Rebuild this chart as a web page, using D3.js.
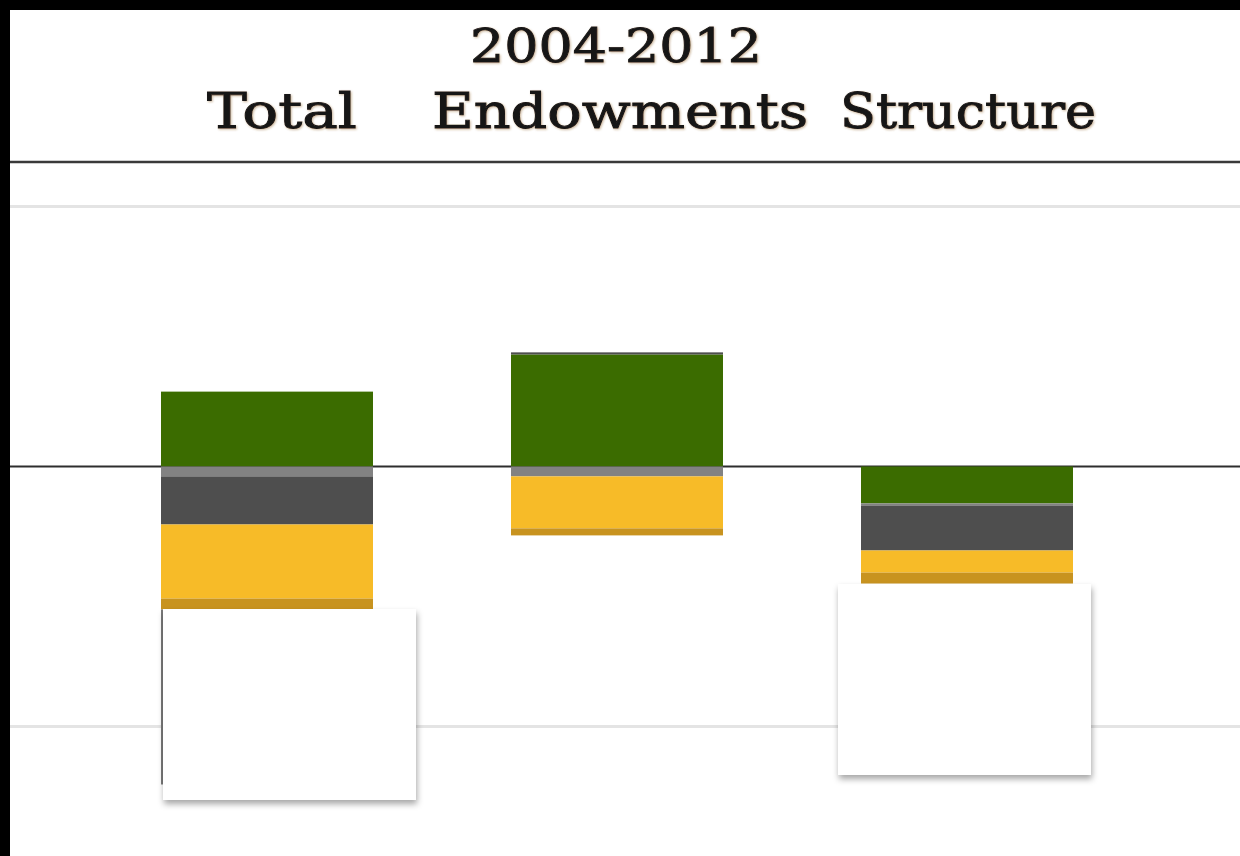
<!DOCTYPE html>
<html>
<head>
<meta charset="utf-8">
<script src="https://cdn.jsdelivr.net/npm/d3@7"></script>
<style>
  html, body { margin: 0; padding: 0; background: #000; }
  svg { display: block; }
</style>
</head>
<body>
<svg id="chart" width="1240" height="856"></svg>
<script>
// ---- data ----
const title = "2004-2012";
const categories = ["Total", "Endowments", "Structure"];
const seriesNames = ["s1", "s2", "s3", "s4", "s5", "s6"];
const seriesColors = ["#3b6c00", "#828282", "#4e4e4e", "#f7bb28", "#c8931f", "#7a7a7a"];
// values per series, one per category (Total, Endowments, Structure)
const s1 = [0.0288, 0.0431, -0.0142];
const s2 = [-0.0038, -0.0038, -0.0008];
const s3 = [-0.0185, 0.0008, -0.0173];
const s4 = [-0.0285, -0.0200, -0.0085];
const s5 = [-0.0042, -0.0027, -0.0042];
const s6 = [-0.0673, 0, 0];
const gridTicks = [-0.1, 0, 0.1];

// ---- layout ----
const W = 1240, H = 856;
const svg = d3.select("#chart");
svg.append("rect").attr("x", 0).attr("y", 0).attr("width", W).attr("height", H).attr("fill", "#000");
svg.append("rect").attr("x", 10).attr("y", 10).attr("width", W - 10).attr("height", H - 10).attr("fill", "#fff");

const defs = svg.append("defs");
const f = defs.append("filter").attr("id", "shadow").attr("x", "-10%").attr("y", "-10%").attr("width", "130%").attr("height", "130%");
f.append("feDropShadow").attr("dx", 1).attr("dy", 4).attr("stdDeviation", 3).attr("flood-color", "#000").attr("flood-opacity", 0.35);
const tf = defs.append("filter").attr("id", "tshadow");
tf.append("feDropShadow").attr("dx", 1).attr("dy", 1).attr("stdDeviation", 1).attr("flood-color", "#8a5a20").attr("flood-opacity", 0.45);

const x = d3.scaleBand().domain(categories).range([92, 1142]).paddingInner(0.4).paddingOuter(0.2);
const y = d3.scaleLinear().domain([-0.1, 0.1]).range([726.5, 206.5]);

// titles
const textG = svg.append("g").attr("font-family", "'DejaVu Serif', 'Liberation Serif', serif")
  .attr("fill", "#161616").attr("stroke", "#161616").attr("stroke-width", 0.9)
  .attr("filter", "url(#tshadow)");
textG.append("text").attr("x", 470).attr("y", 62).attr("font-size", 47)
  .attr("textLength", 292).attr("lengthAdjust", "spacingAndGlyphs").text(title);
const headerPos = { "Total": [207, 150], "Endowments": [432, 376], "Structure": [840, 256] };
categories.forEach(c => {
  textG.append("text").attr("x", headerPos[c][0]).attr("y", 128).attr("font-size", 48)
    .attr("textLength", headerPos[c][1]).attr("lengthAdjust", "spacingAndGlyphs").text(c);
});

// header rule
svg.append("line").attr("x1", 10).attr("x2", W).attr("y1", 162).attr("y2", 162)
  .attr("stroke", "#3a3a3a").attr("stroke-width", 2.5);

// gridlines
svg.append("g").selectAll("line").data(gridTicks.filter(t => t !== 0)).join("line")
  .attr("x1", 10).attr("x2", W).attr("y1", d => y(d)).attr("y2", d => y(d))
  .attr("stroke", "#e4e4e4").attr("stroke-width", 3);
svg.append("line").attr("x1", 10).attr("x2", W).attr("y1", y(0)).attr("y2", y(0))
  .attr("stroke", "#2e2e2e").attr("stroke-width", 2.2);

// stacked bars
const allSeries = [s1, s2, s3, s4, s5, s6];
const table = categories.map((c, i) => {
  const o = { cat: c };
  seriesNames.forEach((s, j) => o[s] = allSeries[j][i]);
  return o;
});
const stacked = d3.stack().keys(seriesNames).offset(d3.stackOffsetDiverging)(table);
const color = d3.scaleOrdinal().domain(seriesNames).range(seriesColors);

const barW = 212;
svg.append("g").selectAll("g").data(stacked).join("g")
  .attr("fill", d => color(d.key))
  .selectAll("rect").data(d => d).join("rect")
  .attr("x", d => x(d.data.cat) + x.bandwidth() / 2 - barW / 2)
  .attr("width", barW)
  .attr("y", d => y(Math.max(d[0], d[1])))
  .attr("height", d => Math.abs(y(d[0]) - y(d[1])));

// blank tooltip boxes
const boxes = [[163, 609, 253, 191], [838, 584, 253, 191]];
svg.append("g").selectAll("rect").data(boxes).join("rect")
  .attr("x", d => d[0]).attr("y", d => d[1]).attr("width", d => d[2]).attr("height", d => d[3])
  .attr("fill", "#fff").attr("filter", "url(#shadow)");
</script>
</body>
</html>
